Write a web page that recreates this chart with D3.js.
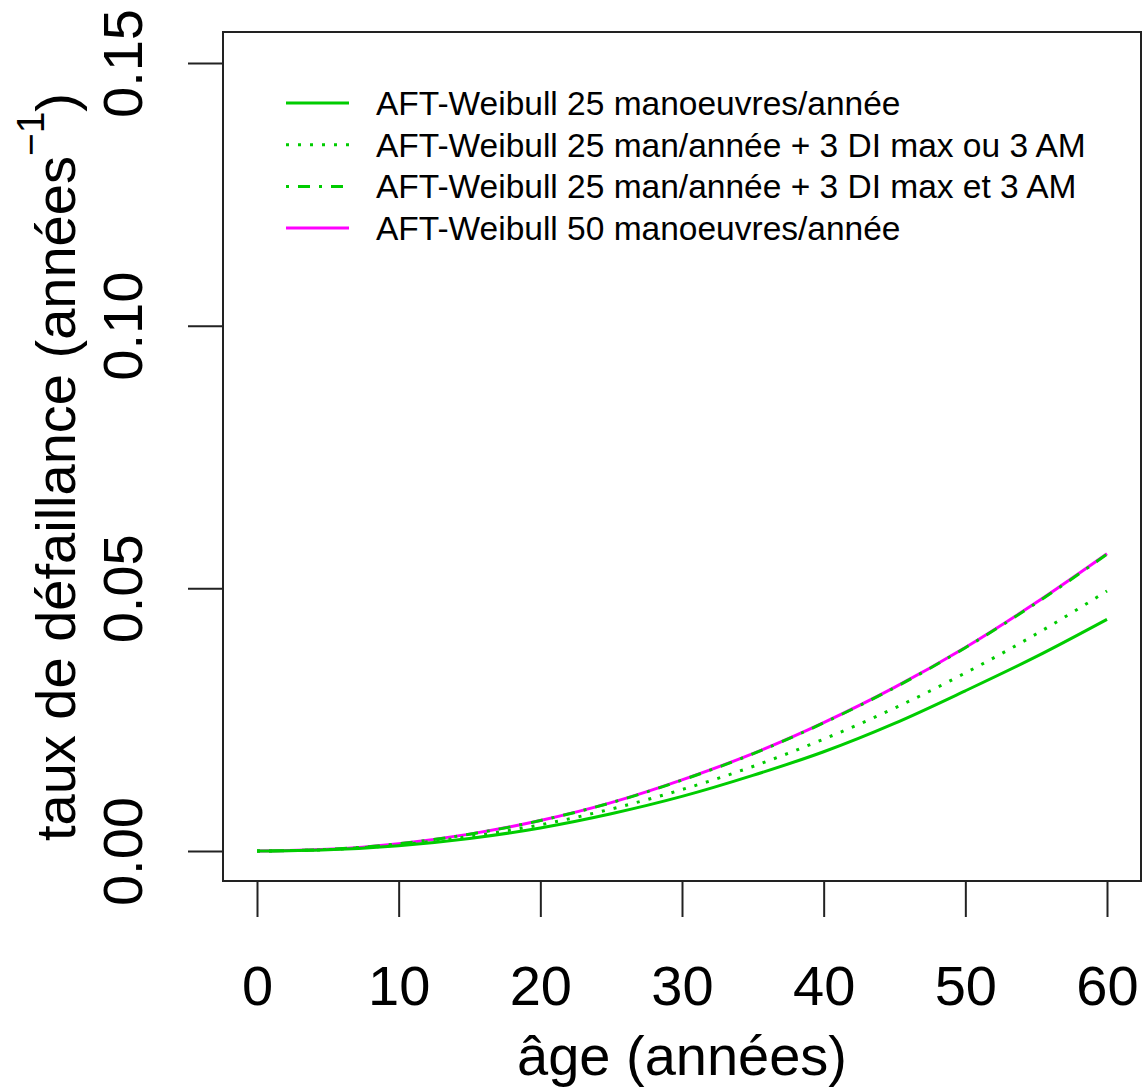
<!DOCTYPE html>
<html>
<head>
<meta charset="utf-8">
<script src="https://cdn.jsdelivr.net/npm/d3@7"></script>
<style>
  body { margin: 0; background: #fff; }
  svg { display: block; font-family: "Liberation Sans", Arial, sans-serif; }
</style>
</head>
<body>
<div id="chart"></div>
<script>
// ages (années) where the curves were read
const ages = [0, 5, 10, 15, 20, 25, 30, 35, 40, 45, 50, 55, 60];

// hazard rates
const man25 = [0, 0.00024, 0.00102, 0.0024, 0.0044, 0.0071, 0.0104, 0.0144, 0.0189, 0.0243, 0.0305, 0.0370, 0.0441];
const man25ou = [0, 0.00028, 0.00119, 0.00277, 0.0050, 0.0080, 0.0117, 0.0161, 0.0213, 0.0272, 0.0339, 0.0413, 0.0495];
const man25et = [0, 0.00033, 0.00139, 0.0032, 0.0058, 0.0092, 0.0135, 0.0185, 0.0244, 0.0311, 0.0387, 0.0472, 0.0565];
const man50 = [0, 0.00033, 0.0014, 0.00322, 0.00582, 0.00922, 0.01355, 0.01855, 0.02445, 0.03115, 0.03875, 0.0473, 0.0566];

const xTicks = [0, 10, 20, 30, 40, 50, 60];
const yTicks = [0, 0.05, 0.10, 0.15];

const legendLabels = [
    "AFT-Weibull 25 manoeuvres/année",
    "AFT-Weibull 25 man/année + 3 DI max ou 3 AM",
    "AFT-Weibull 25 man/année + 3 DI max et 3 AM",
    "AFT-Weibull 50 manoeuvres/année"
];

const width = 1142,
    height = 1089;

const green = "#00cc00",
    magenta = "#ff00ff";

const svg = d3.select("#chart")
    .append("svg")
    .attr("width", width)
    .attr("height", height);

const x = d3.scaleLinear().domain([-2.4, 62.4]).range([223, 1141]);
const y = d3.scaleLinear().domain([-0.0057, 0.1559]).range([881, 32]);

// series, magenta drawn first so the green dot-dash sits on top
const series = [
    { values: man50, color: magenta, dash: null },
    { values: man25, color: green, dash: null },
    { values: man25ou, color: green, dash: "3,9" },
    { values: man25et, color: green, dash: "3,9,12,9" }
];

const line = d3.line()
    .x((d, i) => x(ages[i]))
    .y(d => y(d))
    .curve(d3.curveMonotoneX);

svg.selectAll(".curve")
    .data(series)
    .enter()
    .append("path")
    .attr("class", "curve")
    .attr("d", d => line(d.values))
    .attr("fill", "none")
    .attr("stroke", d => d.color)
    .attr("stroke-width", 3)
    .attr("stroke-dasharray", d => d.dash);

// box
svg.append("rect")
    .attr("x", x.range()[0])
    .attr("y", y.range()[1])
    .attr("width", x.range()[1] - x.range()[0])
    .attr("height", y.range()[0] - y.range()[1])
    .attr("fill", "none")
    .attr("stroke", "#222")
    .attr("stroke-width", 2);

// x axis
const xAxis = svg.append("g")
    .attr("transform", "translate(0,881)")
    .call(d3.axisBottom(x).tickValues(xTicks).tickSize(36).tickFormat(d3.format("d")));

xAxis.select(".domain").remove();
xAxis.selectAll("line").attr("stroke", "#222").attr("stroke-width", 2);
xAxis.selectAll("text")
    .attr("y", 124)
    .attr("dy", 0)
    .attr("font-size", 56)
    .attr("font-family", "Liberation Sans, Arial, sans-serif")
    .attr("fill", "#000");

// y axis
const yAxis = svg.append("g")
    .attr("transform", "translate(223,0)")
    .call(d3.axisLeft(y).tickValues(yTicks).tickSize(35).tickFormat(d3.format(".2f")));

yAxis.select(".domain").remove();
yAxis.selectAll("line").attr("stroke", "#222").attr("stroke-width", 2);
yAxis.selectAll("text")
    .attr("transform", "rotate(-90)")
    .attr("x", 0)
    .attr("y", -81)
    .attr("dy", 0)
    .attr("text-anchor", "middle")
    .attr("font-size", 56)
    .attr("font-family", "Liberation Sans, Arial, sans-serif")
    .attr("fill", "#000");

// axis titles
svg.append("text")
    .attr("x", 682)
    .attr("y", 1075)
    .attr("text-anchor", "middle")
    .attr("font-size", 56)
    .text("âge (années)");

const yTitle = svg.append("text")
    .attr("transform", "translate(75,467) rotate(-90)")
    .attr("text-anchor", "middle")
    .attr("font-size", 56);

yTitle.append("tspan").text("taux de défaillance (années");
yTitle.append("tspan").attr("font-size", 39).attr("dy", -31).text("\u22121");
yTitle.append("tspan").attr("dy", 31).text(")");

// legend
const legendStyles = [
    { color: green, dash: null },
    { color: green, dash: "3,9" },
    { color: green, dash: "3,9,12,9" },
    { color: magenta, dash: null }
];

const legend = svg.selectAll(".legend")
    .data(legendLabels)
    .enter()
    .append("g")
    .attr("class", "legend")
    .attr("transform", (d, i) => `translate(286, ${103 + i * 41.7})`);

legend.append("line")
    .attr("x1", 0)
    .attr("x2", 63)
    .attr("stroke", (d, i) => legendStyles[i].color)
    .attr("stroke-width", 3)
    .attr("stroke-dasharray", (d, i) => legendStyles[i].dash);

legend.append("text")
    .attr("x", 90)
    .attr("y", 12)
    .attr("font-size", 33.5)
    .text(d => d);
</script>
</body>
</html>
